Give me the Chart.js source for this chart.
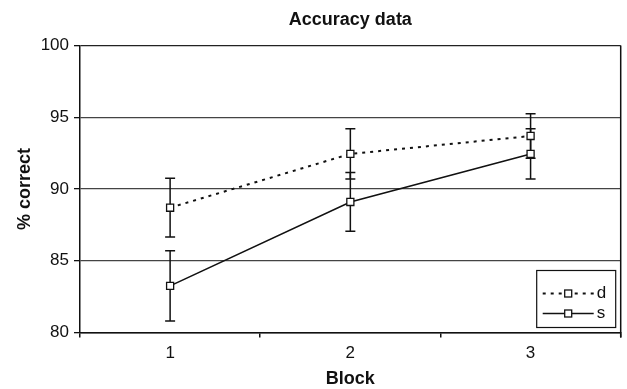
<!DOCTYPE html>
<html>
<head>
<meta charset="utf-8">
<script src="https://cdn.jsdelivr.net/npm/chart.js@4/dist/chart.umd.min.js"></script>
<style>
  html, body { margin: 0; padding: 0; background: #fff; }
  #wrap { width: 627px; height: 389px; }
</style>
</head>
<body>
<div id="wrap"><canvas id="chartAcc"></canvas></div>
<script>
const blocks = ["1", "2", "3"];
const dMean = [88.7, 92.45, 93.7];
const dErr = [2.05, 1.75, 1.55];
const sMean = [83.25, 89.1, 92.45];
const sErr = [2.45, 2.05, 1.75];
const yTicks = [80, 85, 90, 95, 100];

const FONT = "'Liberation Sans', Arial, sans-serif";

// error bars, drawn under the markers
const errorBars = {
  id: "errorBars",
  beforeDatasetsDraw(chart) {
    const { ctx, scales: { x, y } } = chart;
    ctx.save();
    ctx.strokeStyle = "#111";
    ctx.lineWidth = 1.5;
    chart.data.datasets.forEach(ds => {
      ds.data.forEach((v, i) => {
        const px = x.getPixelForValue(i);
        const top = y.getPixelForValue(v + ds.err[i]);
        const bot = y.getPixelForValue(v - ds.err[i]);
        ctx.beginPath();
        ctx.moveTo(px, top); ctx.lineTo(px, bot);
        ctx.moveTo(px - 5, top); ctx.lineTo(px + 5, top);
        ctx.moveTo(px - 5, bot); ctx.lineTo(px + 5, bot);
        ctx.stroke();
      });
    });
    ctx.restore();
  }
};

// right border of plot area + boxed legend in the lower right corner
const frameAndLegend = {
  id: "frameAndLegend",
  afterDraw(chart) {
    const { ctx, chartArea: a } = chart;
    ctx.save();
    ctx.strokeStyle = "#111";
    ctx.lineWidth = 1.5;
    ctx.beginPath();
    ctx.moveTo(a.right, a.top);
    ctx.lineTo(a.right, a.bottom + 5);
    ctx.stroke();

    const bx = a.right - 84, by = a.bottom - 62, bw = 79, bh = 57;
    ctx.fillStyle = "#fff";
    ctx.fillRect(bx, by, bw, bh);
    ctx.lineWidth = 1.2;
    ctx.strokeRect(bx, by, bw, bh);

    chart.data.datasets.forEach((ds, i) => {
      const ly = by + 23 + i * 20;
      ctx.strokeStyle = "#111";
      ctx.lineWidth = ds.borderWidth;
      ctx.setLineDash(ds.borderDash || []);
      ctx.beginPath();
      ctx.moveTo(bx + 6, ly);
      ctx.lineTo(bx + 57, ly);
      ctx.stroke();
      ctx.setLineDash([]);
      ctx.fillStyle = "#fff";
      ctx.lineWidth = 1.3;
      ctx.fillRect(bx + 28, ly - 3.5, 7, 7);
      ctx.strokeRect(bx + 28, ly - 3.5, 7, 7);
      ctx.fillStyle = "#111";
      ctx.font = "17px " + FONT;
      ctx.textBaseline = "middle";
      ctx.fillText(ds.label, bx + 60, ly);
    });
    ctx.restore();
  }
};

new Chart(document.getElementById("chartAcc"), {
  type: "line",
  data: {
    labels: blocks,
    datasets: [
      {
        label: "d",
        data: dMean,
        err: dErr,
        borderColor: "#111",
        borderWidth: 2,
        borderDash: [3, 5],
        pointStyle: "rect",
        pointRadius: 5,
        pointBackgroundColor: "#fff",
        pointBorderColor: "#111",
        pointBorderWidth: 1.3,
        tension: 0
      },
      {
        label: "s",
        data: sMean,
        err: sErr,
        borderColor: "#111",
        borderWidth: 1.6,
        pointStyle: "rect",
        pointRadius: 5,
        pointBackgroundColor: "#fff",
        pointBorderColor: "#111",
        pointBorderWidth: 1.3,
        tension: 0
      }
    ]
  },
  options: {
    responsive: true,
    maintainAspectRatio: false,
    animation: false,
    layout: { padding: { left: 0, right: 2, top: 0, bottom: 0 } },
    plugins: {
      legend: { display: false },
      tooltip: { enabled: false },
      title: {
        display: true,
        text: "Accuracy data",
        fullSize: false,
        color: "#111",
        font: { family: FONT, size: 18, weight: "bold" },
        padding: { top: 9, bottom: 15 }
      }
    },
    scales: {
      x: {
        offset: true,
        grid: {
          offset: true,
          drawOnChartArea: false,
          drawTicks: true,
          tickLength: 5,
          color: "#111",
          lineWidth: 1.5
        },
        border: { color: "#111", width: 1.5 },
        ticks: { color: "#111", padding: 6, font: { family: FONT, size: 17 } },
        title: {
          display: true,
          text: "Block",
          color: "#111",
          font: { family: FONT, size: 18, weight: "bold" },
          padding: { top: 0, bottom: -1 }
        },
        afterFit(scale) { scale.height = 56.5; }
      },
      y: {
        min: 80,
        max: 100,
        afterBuildTicks(scale) { scale.ticks = yTicks.map(v => ({ value: v })); },
        grid: {
          color: ctx => ctx.tick && (ctx.tick.value === 80 || ctx.tick.value === 100) ? "#222" : "#444",
          lineWidth: 1.3,
          tickLength: 6,
          tickColor: "#111"
        },
        border: { color: "#111", width: 1.5 },
        ticks: { color: "#111", padding: 5, font: { family: FONT, size: 17 } },
        title: {
          display: true,
          text: "% correct",
          color: "#111",
          font: { family: FONT, size: 18, weight: "bold" },
          padding: { top: 14, bottom: 0 }
        },
        afterFit(scale) { scale.width = 80; }
      }
    }
  },
  plugins: [errorBars, frameAndLegend]
});
</script>
</body>
</html>
